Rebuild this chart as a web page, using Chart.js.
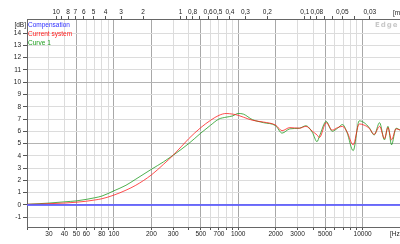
<!DOCTYPE html>
<html>
<head>
<meta charset="utf-8">
<script src="https://cdn.jsdelivr.net/npm/chart.js@4/dist/chart.umd.min.js"></script>
<style>
  html, body { margin: 0; padding: 0; background: #fff; }
  canvas { display: block; }
</style>
</head>
<body>
<canvas id="response" width="400" height="244"></canvas>
<script>
// measured frequency points (Hz) shared by both curves
const freqs = [20, 25, 30, 40, 50, 60, 70, 80, 100, 125, 150, 200, 250, 300, 400, 500, 600, 700, 800, 900,
  1000, 1100, 1300, 1600, 2000, 2250, 2600, 3100, 3500, 3950, 4300, 4500, 5100, 5700, 6300, 6900, 7500,
  8400, 9400, 10300, 11300, 12400, 13700, 15000, 16000, 17100, 18600, 20000];

const currentSystem = [0.05, 0.07, 0.1, 0.15, 0.22, 0.3, 0.4, 0.5, 0.8, 1.2, 1.6, 2.44, 3.3, 4.05, 5.4, 6.3, 6.9, 7.3, 7.45, 7.4,
  7.3, 7.15, 6.9, 6.75, 6.5, 6.05, 6.3, 6.25, 6.4, 6.0, 5.7, 5.5, 6.7, 6.1, 6.3, 6.4, 5.95,
  4.9, 6.6, 6.5, 6.25, 5.75, 6.4, 5.4, 6.3, 5.3, 6.2, 6.1];

const curve1 = [0.05, 0.1, 0.15, 0.25, 0.33, 0.45, 0.58, 0.72, 1.15, 1.6, 2.1, 2.9, 3.5, 4.05, 5.0, 5.85, 6.5, 7.0, 7.15, 7.25,
  7.45, 7.4, 6.95, 6.7, 6.45, 5.85, 6.2, 6.25, 6.45, 5.9, 5.15, 5.6, 6.8, 6.0, 6.25, 6.55, 5.9,
  4.42, 6.85, 6.7, 6.3, 5.7, 6.7, 5.3, 6.4, 4.9, 6.25, 6.1];

const compFreqs = [20, 20000];
const compensation = [0, 0];

// axis ticks
const gridFreqs = [20, 30, 40, 50, 60, 70, 80, 90, 100, 200, 300, 400, 500, 600, 700, 800, 900,
  1000, 2000, 3000, 4000, 5000, 6000, 7000, 8000, 9000, 10000, 20000];
const hzLabels = [30, 40, 50, 60, 80, 100, 200, 300, 500, 700, 1000, 2000, 3000, 5000, 10000];
const majorFreqs = [50, 100, 200, 500, 1000, 2000, 5000, 10000];
const waveTicks = [10, 9, 8, 7, 6, 5, 4, 3, 2, 1, 0.9, 0.8, 0.7, 0.6, 0.5, 0.4, 0.3, 0.2,
  0.1, 0.09, 0.08, 0.07, 0.06, 0.05, 0.04, 0.03];
const waveLabels = ['10', '', '8', '7', '6', '5', '4', '3', '2', '1', '', '0,8', '', '0,6', '0,5', '0,4', '0,3', '0,2',
  '0,1', '', '0,08', '', '', '0,05', '', '0,03'];
const dbTicks = [-1, 0, 1, 2, 3, 4, 5, 6, 7, 8, 9, 10, 11, 12, 13, 14];
const soundSpeed = 343;

const tickFont = { family: 'Liberation Sans', size: 6.5 };

const textPlugin = {
  id: 'texts',
  afterDraw(chart) {
    const c = chart.ctx;
    const a = chart.chartArea;
    c.save();
    c.font = '6.5px "Liberation Sans"';
    c.textBaseline = 'middle';
    c.fillStyle = '#222';
    c.textAlign = 'right';
    c.fillText('[dB]', a.left - 1, 25);
    c.textAlign = 'left';
    c.fillText('[Hz', 390, 234);
    c.fillText('[m', 393, 13.5);

    // legend as coloured text
    chart.data.datasets.forEach((ds, i) => {
      c.fillStyle = ds.textColor;
      c.fillText(ds.label, a.left + 1, 25 + i * 9);
    });

    c.fillStyle = '#c8c8c8';
    c.font = 'bold 7px "DejaVu Sans"';
    c.letterSpacing = '1px';
    c.fillText('Edge', 375, 25);
    c.restore();
  }
};

document.addEventListener('DOMContentLoaded', () => {
  const ctx = document.getElementById('response').getContext('2d');

  const toPoints = (xs, ys) => xs.map((x, i) => ({ x: x, y: ys[i] }));

  new Chart(ctx, {
    type: 'line',
    data: {
      datasets: [
        {
          label: 'Compensation',
          data: toPoints(compFreqs, compensation),
          borderColor: 'rgba(90, 90, 255, 0.85)',
          textColor: '#3030ff',
          borderWidth: 2
        },
        {
          label: 'Current system',
          data: toPoints(freqs, currentSystem),
          borderColor: 'rgba(255, 20, 20, 0.75)',
          textColor: '#ff2020',
          borderWidth: 1,
          cubicInterpolationMode: 'monotone'
        },
        {
          label: 'Curve 1',
          data: toPoints(freqs, curve1),
          borderColor: 'rgba(20, 150, 20, 0.75)',
          textColor: '#20a020',
          borderWidth: 1,
          cubicInterpolationMode: 'monotone'
        }
      ]
    },
    options: {
      responsive: false,
      animation: false,
      layout: { padding: 0 },
      elements: { point: { radius: 0 } },
      plugins: {
        legend: { display: false },
        tooltip: { enabled: false }
      },
      scales: {
        x: {
          type: 'logarithmic',
          position: 'bottom',
          min: 20,
          max: 20000,
          afterBuildTicks: s => { s.ticks = gridFreqs.map(v => ({ value: v })); },
          afterFit: s => { s.height = 17; },
          ticks: {
            autoSkip: false,
            maxRotation: 0,
            padding: 0,
            color: '#222',
            font: tickFont,
            callback: v => hzLabels.includes(v) ? String(v) : ''
          },
          grid: {
            color: c => majorFreqs.includes(c.tick.value) ? '#a8a8a8' : '#dcdcdc',
            tickLength: 3,
            tickColor: '#555'
          },
          border: { color: '#666' }
        },
        top: {
          type: 'logarithmic',
          position: 'top',
          min: 20,
          max: 20000,
          afterBuildTicks: s => { s.ticks = waveTicks.map(w => ({ value: soundSpeed / w })); },
          afterFit: s => { s.height = 19; },
          ticks: {
            autoSkip: false,
            maxRotation: 0,
            padding: 0,
            color: '#222',
            font: tickFont,
            callback: (v, i) => waveLabels[i]
          },
          grid: {
            drawOnChartArea: false,
            tickLength: 3,
            tickColor: '#555'
          },
          border: { color: '#666' }
        },
        y: {
          type: 'linear',
          min: -1.8,
          max: 15.15,
          afterBuildTicks: s => { s.ticks = dbTicks.map(v => ({ value: v })); },
          afterFit: s => { s.width = 27; },
          ticks: {
            padding: 2,
            color: '#222',
            font: tickFont
          },
          grid: {
            color: c => c.tick.value % 5 === 0 ? '#b4b4b4' : '#dcdcdc',
            tickLength: 4,
            tickColor: '#555'
          },
          border: { color: '#666' }
        }
      }
    },
    plugins: [textPlugin]
  });
});
</script>
</body>
</html>
